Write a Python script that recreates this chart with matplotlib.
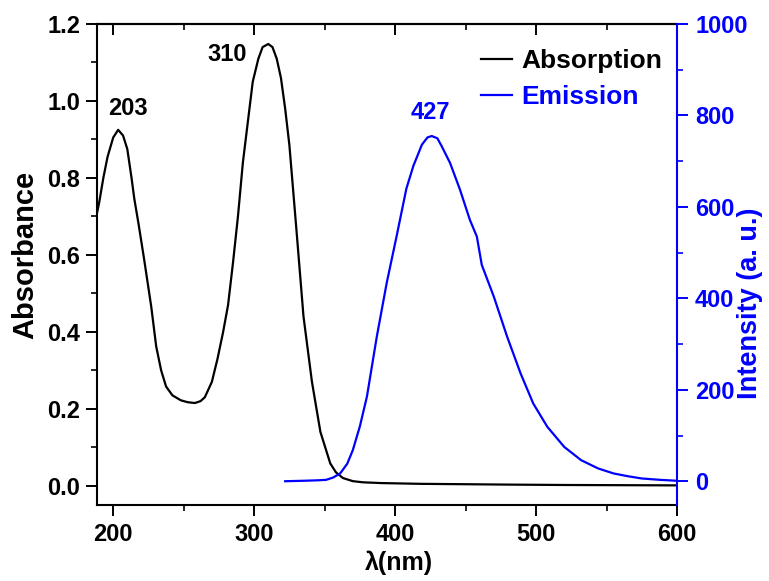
import matplotlib
matplotlib.use("Agg")
import matplotlib.pyplot as plt
from matplotlib.ticker import MultipleLocator, FormatStrFormatter

plt.rcParams['font.family'] = ['Liberation Sans', 'DejaVu Sans']
plt.rcParams['font.weight'] = 'bold'

# Absorption spectrum (wavelength nm, absorbance)
abs_wl = [188, 190, 193, 196, 200, 203.5, 207, 210, 213, 215, 218, 222, 227, 230.5, 234, 237.5,
          242, 248, 253, 258, 262, 265, 270, 274, 278, 281.5, 285, 288.5, 292, 295, 299,
          303, 306, 310, 313, 316, 319, 322, 325, 330, 335, 341, 347, 354, 358, 363,
          370, 377, 390, 418, 450, 480, 520, 560, 600]
abs_val = [0.70, 0.735, 0.80, 0.855, 0.905, 0.925, 0.91, 0.875, 0.80, 0.745, 0.68, 0.587, 0.465, 0.362, 0.30, 0.258,
           0.235, 0.222, 0.217, 0.215, 0.22, 0.23, 0.27, 0.33, 0.40, 0.47, 0.58, 0.70, 0.84, 0.93, 1.05,
           1.11, 1.14, 1.148, 1.14, 1.11, 1.06, 0.98, 0.885, 0.665, 0.44, 0.27, 0.14, 0.058, 0.035, 0.02,
           0.012, 0.009, 0.007, 0.005, 0.004, 0.003, 0.002, 0.0015, 0.001]

# Emission spectrum (wavelength nm, intensity a.u.)
em_wl = [322, 335, 345, 351, 356, 361, 366, 370, 375, 380, 387, 394, 401, 408, 413, 419,
         423, 426, 430, 433, 439, 446, 453, 458, 461.5, 470, 479.5, 489, 498, 508,
         520, 532, 544, 555, 565, 575, 588, 600]
em_val = [0, 1, 2, 3, 8, 17, 38, 68, 120, 185, 316, 433, 535, 640, 690, 736,
          752, 755, 750, 733, 696, 638, 572, 535, 473, 404, 316, 236, 170, 119,
          75, 46, 28, 17, 11, 6, 3, 1]

peak_labels = ["203", "310", "427"]

BLUE = '#0000FF'

fig = plt.figure(figsize=(7.69, 5.81), dpi=100)
ax = fig.add_axes([97/769, 76/581, 580/769, 481/581])
ax2 = ax.twinx()

l1, = ax.plot(abs_wl, abs_val, color='black', lw=1.6)
l2, = ax2.plot(em_wl, em_val, color=BLUE, lw=1.6)

ax.set_xlim(188.5, 600)
ax.set_ylim(-0.05, 1.2)
ax2.set_ylim(-52, 1000)

ax.xaxis.set_major_locator(MultipleLocator(100))
ax.xaxis.set_minor_locator(MultipleLocator(50))
ax.yaxis.set_major_locator(MultipleLocator(0.2))
ax.yaxis.set_minor_locator(MultipleLocator(0.1))
ax.yaxis.set_major_formatter(FormatStrFormatter('%.1f'))
ax2.yaxis.set_major_locator(MultipleLocator(200))
ax2.yaxis.set_minor_locator(MultipleLocator(100))

ax.tick_params(axis='both', which='major', direction='out', length=8, width=1.4, labelsize=17, pad=4)
ax.tick_params(axis='both', which='minor', direction='out', length=4, width=1.2)
ax.tick_params(axis='x', which='major', pad=5)
ax.spines['right'].set_visible(False)
for s in ['left', 'bottom', 'top']:
    ax.spines[s].set_linewidth(1.5)

top = ax.secondary_xaxis('top')
top.xaxis.set_major_locator(MultipleLocator(100))
top.xaxis.set_minor_locator(MultipleLocator(50))
top.tick_params(axis='x', which='major', direction='in', length=8, width=1.4, labeltop=False)
top.tick_params(axis='x', which='minor', direction='in', length=4, width=1.2)
top.spines['top'].set_linewidth(1.5)

for s in ['left', 'bottom', 'top']:
    ax2.spines[s].set_visible(False)
ax2.spines['right'].set_color(BLUE)
ax2.spines['right'].set_linewidth(1.5)
ax2.tick_params(axis='y', which='major', direction='out', length=8, width=1.4, colors=BLUE, labelsize=17, pad=5)
ax2.tick_params(axis='y', which='minor', direction='out', length=4, width=1.2, colors=BLUE)

for lab in ax.get_xticklabels() + ax.get_yticklabels() + ax2.get_yticklabels():
    lab.set_fontweight('bold')

ax.set_xlabel('λ(nm)', fontsize=18, fontweight='bold')
ax.set_ylabel('Absorbance', fontsize=21, fontweight='bold')
ax2.set_ylabel('Intensity (a. u.)', fontsize=19.5, fontweight='bold', color=BLUE)
ax.xaxis.set_label_coords(0.521, -0.094)
ax.yaxis.set_label_coords(-0.100, 0.52)
ax2.yaxis.set_label_coords(1.104, 0.42)

ax.text(210.7, 0.98, peak_labels[0], fontsize=17, fontweight='bold', ha='center', va='center')
ax.text(281, 1.122, peak_labels[1], fontsize=17, fontweight='bold', ha='center', va='center')
ax.text(425, 0.97, peak_labels[2], fontsize=17, fontweight='bold', ha='center', va='center', color=BLUE)

leg = ax2.legend([l1, l2], ['Absorption', 'Emission'], loc='upper right', frameon=False,
                 fontsize=19, handlelength=1.2, handletextpad=0.35, labelspacing=0.45,
                 bbox_to_anchor=(0.993, 0.970), borderaxespad=0.0)
for t, c in zip(leg.get_texts(), ['black', BLUE]):
    t.set_color(c)
    t.set_fontweight('bold')

fig.savefig('out.png', dpi=100)
